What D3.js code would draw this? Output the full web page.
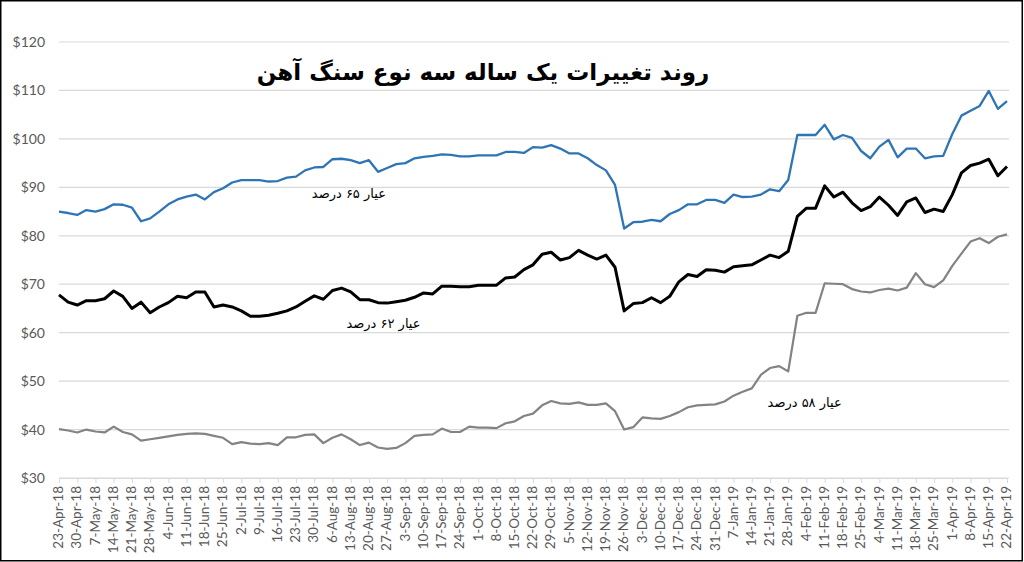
<!DOCTYPE html>
<html>
<head>
<meta charset="utf-8">
<script src="https://cdn.jsdelivr.net/npm/d3@7"></script>
<style>
  body { margin: 0; background: #fff; }
  svg { display: block; }
</style>
</head>
<body>
<svg id="canvas"></svg>
<script>
// weekly tick labels (Mondays)
let weekLabels = ['23-Apr-18','30-Apr-18','7-May-18','14-May-18','21-May-18','28-May-18','4-Jun-18','11-Jun-18',
  '18-Jun-18','25-Jun-18','2-Jul-18','9-Jul-18','16-Jul-18','23-Jul-18','30-Jul-18','6-Aug-18','13-Aug-18',
  '20-Aug-18','27-Aug-18','3-Sep-18','10-Sep-18','17-Sep-18','24-Sep-18','1-Oct-18','8-Oct-18','15-Oct-18',
  '22-Oct-18','29-Oct-18','5-Nov-18','12-Nov-18','19-Nov-18','26-Nov-18','3-Dec-18','10-Dec-18','17-Dec-18',
  '24-Dec-18','31-Dec-18','7-Jan-19','14-Jan-19','21-Jan-19','28-Jan-19','4-Feb-19','11-Feb-19','18-Feb-19',
  '25-Feb-19','4-Mar-19','11-Mar-19','18-Mar-19','25-Mar-19','1-Apr-19','8-Apr-19','15-Apr-19','22-Apr-19']

// prices in $/t, two readings per week (start and middle of the week)
let grade65 = [
  85.0, 84.7, 84.3, 85.3, 85.0, 85.5, 86.5, 86.4, 85.8, 83.0,
  83.6, 85.0, 86.5, 87.5, 88.1, 88.5, 87.5, 89.0, 89.8, 91.0,
  91.5, 91.5, 91.5, 91.2, 91.3, 92.0, 92.2, 93.5, 94.1, 94.2,
  95.8, 95.9, 95.6, 95.0, 95.6, 93.2, 94.0, 94.8, 95.0, 96.0,
  96.3, 96.5, 96.8, 96.7, 96.4, 96.4, 96.6, 96.6, 96.6, 97.3,
  97.3, 97.1, 98.3, 98.2, 98.7, 98.0, 97.0, 97.0, 96.0, 94.6,
  93.5, 90.5, 81.5, 82.8, 82.9, 83.3, 83.0, 84.5, 85.3, 86.5,
  86.5, 87.4, 87.4, 86.8, 88.5, 88.0, 88.1, 88.5, 89.6, 89.2,
  91.5, 100.8, 100.8, 100.8, 102.9, 99.9, 100.8, 100.2, 97.5, 96.0,
  98.4, 99.8, 96.2, 98.0, 98.0, 96.0, 96.4, 96.5, 101.0, 104.8,
  105.8, 106.8, 109.9, 106.2, 107.8]

let grade62 = [
  67.8, 66.3, 65.7, 66.6, 66.6, 67.0, 68.6, 67.5, 65.0, 66.3,
  64.1, 65.3, 66.2, 67.5, 67.2, 68.4, 68.4, 65.3, 65.7, 65.3,
  64.5, 63.4, 63.4, 63.6, 64.0, 64.5, 65.3, 66.5, 67.6, 66.9,
  68.7, 69.2, 68.4, 66.8, 66.8, 66.2, 66.1, 66.4, 66.7, 67.3,
  68.2, 68.0, 69.6, 69.6, 69.5, 69.5, 69.8, 69.8, 69.8, 71.3,
  71.5, 73.0, 74.0, 76.2, 76.6, 75.0, 75.5, 77.0, 76.0, 75.2,
  76.0, 73.5, 64.5, 66.0, 66.2, 67.2, 66.2, 67.5, 70.5, 72.0,
  71.6, 73.0, 72.9, 72.5, 73.6, 73.8, 74.0, 75.0, 76.0, 75.5,
  76.8, 84.0, 85.7, 85.7, 90.3, 88.0, 89.0, 86.8, 85.2, 86.0,
  88.0, 86.3, 84.2, 87.0, 87.8, 84.8, 85.5, 85.0, 88.5, 93.0,
  94.5, 95.0, 95.8, 92.4, 94.3]

let grade58 = [
  40.1, 39.8, 39.4, 40.0, 39.6, 39.4, 40.6, 39.5, 39.0, 37.7,
  38.0, 38.3, 38.6, 38.9, 39.1, 39.2, 39.1, 38.7, 38.3, 37.0,
  37.4, 37.1, 37.0, 37.2, 36.8, 38.4, 38.4, 38.9, 39.0, 37.2,
  38.3, 39.0, 38.0, 36.8, 37.3, 36.3, 36.0, 36.2, 37.2, 38.7,
  38.9, 39.0, 40.2, 39.5, 39.5, 40.6, 40.4, 40.4, 40.3, 41.3,
  41.7, 42.8, 43.3, 45.0, 45.9, 45.4, 45.3, 45.6, 45.1, 45.1,
  45.4, 43.8, 40.0, 40.5, 42.5, 42.3, 42.2, 42.8, 43.6, 44.6,
  45.0, 45.1, 45.2, 45.8, 47.0, 47.8, 48.5, 51.3, 52.7, 53.1,
  52.0, 63.5, 64.1, 64.1, 70.2, 70.1, 70.0, 69.0, 68.5, 68.3,
  68.8, 69.1, 68.7, 69.3, 72.3, 70.0, 69.4, 70.8, 73.8, 76.3,
  78.8, 79.5, 78.5, 79.8, 80.3]

let seriesNames = ['عیار ۶۵ درصد', 'عیار ۶۲ درصد', 'عیار ۵۸ درصد']
let yTicks = [30, 40, 50, 60, 70, 80, 90, 100, 110, 120]
let chartTitle = 'روند تغییرات یک ساله سه نوع سنگ آهن'

const width = 1024
const height = 562

let canvas = d3.select('#canvas')
canvas.attr('width', width)
canvas.attr('height', height)

let xScale = d3.scaleLinear().domain([0, weekLabels.length - 1]).range([59, 1007])
let yScale = d3.scaleLinear().domain([30, 120]).range([478, 42])

// gridlines
canvas.append('g')
  .selectAll('line')
  .data(yTicks)
  .enter()
  .append('line')
  .attr('x1', xScale(0))
  .attr('x2', xScale(weekLabels.length - 1) + 2)
  .attr('y1', d => yScale(d))
  .attr('y2', d => yScale(d))
  .attr('stroke', '#d9d9d9')
  .attr('stroke-width', 1.2)

// y axis labels
let yAxis = d3.axisLeft(yScale).tickValues(yTicks).tickFormat(d => '$' + d).tickSize(0).tickPadding(14)
canvas.append('g')
  .attr('transform', 'translate(' + xScale(0) + ',0)')
  .call(yAxis)
  .call(g => g.select('.domain').remove())
  .selectAll('text')
  .attr('font-family', 'Lato, sans-serif')
  .attr('font-size', 14)
  .attr('fill', '#595959')

// x axis
let xAxis = d3.axisBottom(xScale)
  .tickValues(d3.range(weekLabels.length))
  .tickFormat(i => weekLabels[i])
  .tickSize(5)
  .tickPadding(4)
let xg = canvas.append('g')
  .attr('transform', 'translate(0,' + yScale(30) + ')')
  .call(xAxis)
xg.select('.domain').attr('stroke', '#d9d9d9')
xg.selectAll('.tick line').attr('stroke', '#d9d9d9')
xg.selectAll('text')
  .attr('font-family', 'Lato, sans-serif')
  .attr('font-size', 13.5)
  .attr('fill', '#595959')
  .attr('text-anchor', 'end')
  .attr('dy', '0.35em')
  .attr('transform', 'translate(-1,4) rotate(-90)')
  .attr('x', -4)
  .attr('y', 0)

// lines
let line = d3.line()
  .x((d, i) => xScale(i / 2))
  .y(d => yScale(d))

let series = [
  { values: grade58, color: '#838383', w: 2.2 },
  { values: grade62, color: '#000000', w: 3 },
  { values: grade65, color: '#2e75b6', w: 2.3 }
]

canvas.append('g')
  .selectAll('path')
  .data(series)
  .enter()
  .append('path')
  .attr('d', d => line(d.values))
  .attr('fill', 'none')
  .attr('stroke', d => d.color)
  .attr('stroke-width', d => d.w)
  .attr('stroke-linejoin', 'round')

// series labels
let labelPos = [[15.9, 87.8], [17.8, 61.0], [40.9, 44.6]]
canvas.append('g')
  .selectAll('text')
  .data(seriesNames)
  .enter()
  .append('text')
  .attr('x', (d, i) => xScale(labelPos[i][0]))
  .attr('y', (d, i) => yScale(labelPos[i][1]))
  .attr('text-anchor', 'middle')
  .attr('direction', 'rtl')
  .attr('font-family', 'DejaVu Sans, sans-serif')
  .attr('font-size', 13)
  .attr('fill', '#000')
  .text(d => d)

// title
canvas.append('text')
  .attr('x', 483)
  .attr('y', 80)
  .attr('text-anchor', 'middle')
  .attr('direction', 'rtl')
  .attr('font-family', 'DejaVu Sans, sans-serif')
  .attr('font-weight', 'bold')
  .attr('font-size', 23)
  .attr('fill', '#000')
  .text(chartTitle)

// frame
canvas.append('rect')
  .attr('x', 0.75)
  .attr('y', 0.75)
  .attr('width', width - 2.5)
  .attr('height', height - 2)
  .attr('fill', 'none')
  .attr('stroke', '#000')
  .attr('stroke-width', 1.5)
</script>
</body>
</html>
